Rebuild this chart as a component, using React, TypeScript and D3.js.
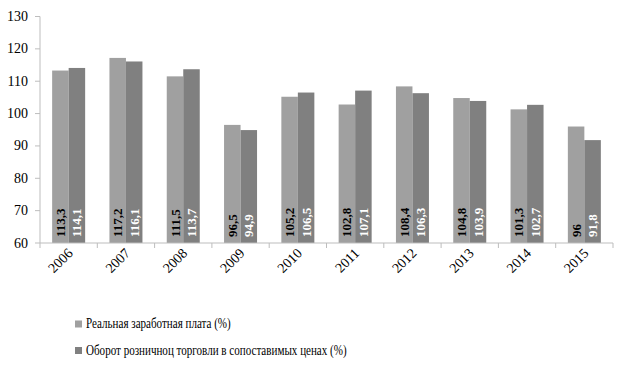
import React from 'react';
import * as d3 from 'd3';

const years = ['2006', '2007', '2008', '2009', '2010', '2011', '2012', '2013', '2014', '2015'];
const wages = [113.3, 117.2, 111.5, 96.5, 105.2, 102.8, 108.4, 104.8, 101.3, 96];
const retail = [114.1, 116.1, 113.7, 94.9, 106.5, 107.1, 106.3, 103.9, 102.7, 91.8];
const yTicks = [60, 70, 80, 90, 100, 110, 120, 130];
const seriesNames = [
  'Реальная заработная плата (%)',
  'Оборот розничноц торговли в сопоставимых ценах (%)',
];

const width = 623;
const height = 365;
const font = 'Liberation Serif, Times New Roman, serif';
const colors = ['#a0a0a0', '#808080'];
const labelColors = ['#000', '#fff'];
const axisColor = '#bdbdbd';

const fmt = (v: number) => String(v).replace('.', ',');

export default function App() {
  const x = d3.scaleBand<string>().domain(years).range([40, 613]);
  const y = d3.scaleLinear().domain([60, 130]).range([243, 16.5]);
  const barW = 16.5;
  const series = [wages, retail];

  return (
    <svg width={width} height={height} style={{ position: 'absolute', left: 0, top: 0, fontFamily: font }}>
      <rect width={width} height={height} fill="#fff" />
      {/* y axis */}
      <line x1={40} x2={40} y1={y(130)} y2={y(60)} stroke={axisColor} />
      {yTicks.map(t => (
        <g key={t}>
          <line x1={35} x2={40} y1={y(t)} y2={y(t)} stroke={axisColor} />
          <text x={28} y={y(t)} textAnchor="end" dominantBaseline="central"
            fontSize={14} fill="#000">{t}</text>
        </g>
      ))}
      {/* bars */}
      {years.map((yr, i) => {
        const c = (x(yr) as number) + x.bandwidth() / 2;
        return (
          <g key={yr}>
            {series.map((s, k) => {
              const bx = c - barW + k * barW;
              return (
                <g key={k}>
                  <rect x={bx} y={y(s[i])} width={barW} height={y(60) - y(s[i])} fill={colors[k]} />
                  <text transform={`translate(${bx + barW / 2},237) rotate(-90)`}
                    dominantBaseline="central" fontSize={13}
                    fontWeight="bold" fill={labelColors[k]}>{fmt(s[i])}</text>
                </g>
              );
            })}
            <text transform={`translate(${c + 5},254) rotate(-45)`} textAnchor="end"
              fontSize={14} fill="#000">{yr}</text>
          </g>
        );
      })}
      {/* x axis */}
      <line x1={40} x2={613} y1={243} y2={243} stroke={axisColor} />
      {years.map(yr => (
        <line key={yr} x1={x(yr)} x2={x(yr)} y1={243} y2={248} stroke={axisColor} />
      ))}
      <line x1={613} x2={613} y1={243} y2={248} stroke={axisColor} />
      {/* legend */}
      {seriesNames.map((n, k) => (
        <g key={n} transform={`translate(75,${324 + k * 26.5})`}>
          <rect x={0} y={-3.5} width={7} height={7} fill={colors[k]} />
          <text transform="translate(11,0) scale(0.79,1)" dominantBaseline="central"
            fontSize={14} fill="#000">{n}</text>
        </g>
      ))}
    </svg>
  );
}
